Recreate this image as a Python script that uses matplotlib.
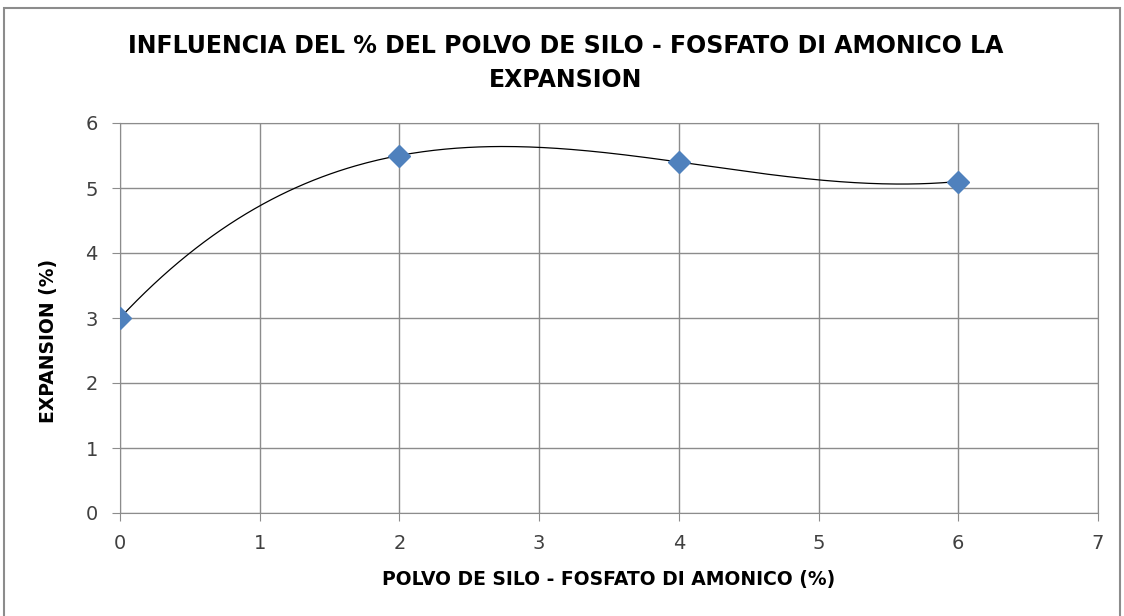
import numpy as np
import matplotlib
matplotlib.use("Agg")
import matplotlib.pyplot as plt

# data
polvo = [0, 2, 4, 6]
expansion = [3.0, 5.5, 5.4, 5.1]

x_ticks = [0, 1, 2, 3, 4, 5, 6, 7]
y_ticks = [0, 1, 2, 3, 4, 5, 6]

plt.rcParams['font.family'] = ['DejaVu Sans']

fig = plt.figure(figsize=(11.24, 6.16), dpi=100)
ax = fig.add_axes([120 / 1124, 1 - 513 / 616, (1098 - 120) / 1124, (513 - 123) / 616])

# curve is a 3rd order polynomial trendline through the points
coef = np.polyfit(polvo, expansion, 3)
xx = np.linspace(min(polvo), max(polvo), 300)
ax.plot(xx, np.polyval(coef, xx), color="black", linewidth=0.9, zorder=3)
ax.plot(polvo, expansion, linestyle="none", marker="D", markersize=11,
        color="#4F81BD", markeredgecolor="#4F81BD", zorder=4)

ax.set_xlim(0, 7)
ax.set_ylim(0, 6)
ax.set_xticks(x_ticks)
ax.set_yticks(y_ticks)
ax.grid(True, color="#8c8c8c", linewidth=1)
ax.set_axisbelow(True)
for s in ax.spines.values():
    s.set_color("#8c8c8c")
ax.tick_params(colors="#8c8c8c", labelcolor="#404040", labelsize=14, length=6)
ax.tick_params(axis="x", pad=9)
ax.tick_params(axis="y", pad=10)

ax.set_xlabel("POLVO DE SILO - FOSFATO DI AMONICO (%)", fontsize=13.5, fontweight="bold", labelpad=12)
ax.set_ylabel("EXPANSION (%)", fontsize=13.5, fontweight="bold")
ax.yaxis.set_label_coords(-62 / 978, 0.44)
fig.text(0.503, 1 - 63 / 616, "INFLUENCIA DEL % DEL POLVO DE SILO - FOSFATO DI AMONICO LA\nEXPANSION",
         ha="center", va="center", fontsize=17, fontweight="bold", linespacing=1.5)

# outer frame
fig.patches.append(plt.Rectangle((4 / 1124, -4 / 616), 1 - 8 / 1124, 1 - 4 / 616,
                                 transform=fig.transFigure, fill=False,
                                 edgecolor="#8c8c8c", linewidth=1.5))

fig.savefig("out.png", dpi=100)
